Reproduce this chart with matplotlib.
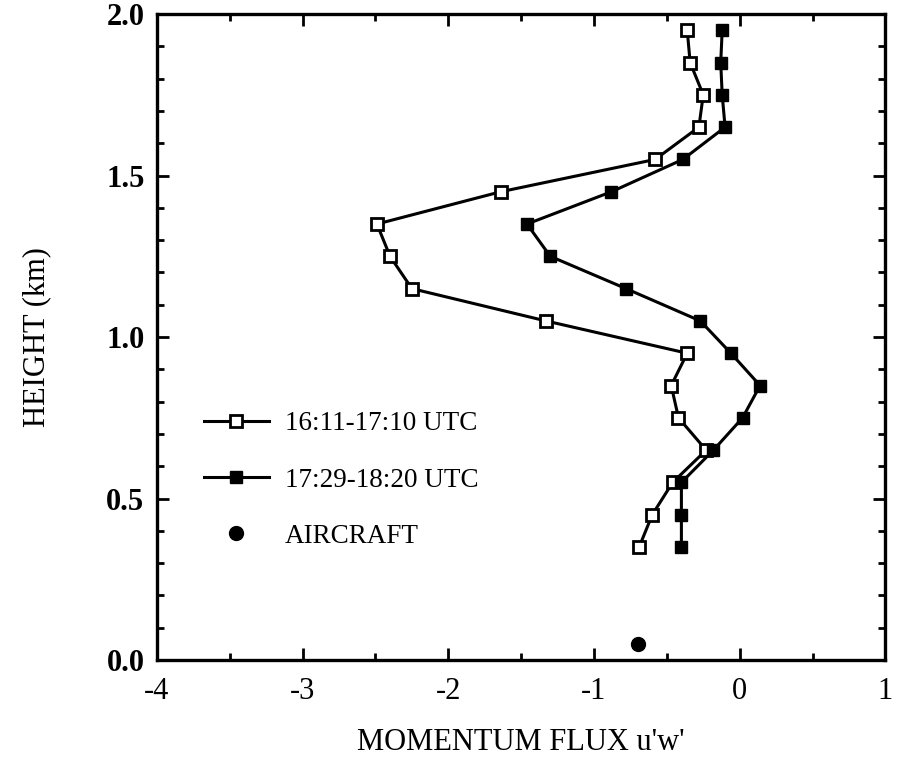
import matplotlib
matplotlib.use('Agg')
import matplotlib.pyplot as plt
from matplotlib.ticker import MultipleLocator

plt.rcParams['font.family'] = ['Liberation Serif', 'DejaVu Serif']
plt.rcParams['axes.unicode_minus'] = False

# heights (km) of the profile levels
heights = [0.35, 0.45, 0.55, 0.65, 0.75, 0.85, 0.95, 1.05, 1.15,
           1.25, 1.35, 1.45, 1.55, 1.65, 1.75, 1.85, 1.95]

# momentum flux u'w' for both periods
flux_early = [-0.69, -0.60, -0.46, -0.23, -0.42, -0.47, -0.36, -1.33, -2.25,
              -2.40, -2.49, -1.64, -0.58, -0.28, -0.25, -0.34, -0.36]
flux_late = [-0.40, -0.40, -0.40, -0.18, 0.02, 0.14, -0.06, -0.27, -0.78,
             -1.30, -1.46, -0.88, -0.39, -0.10, -0.12, -0.13, -0.12]

aircraft_flux = [-0.70]
aircraft_height = [0.05]

labels = ['16:11-17:10 UTC', '17:29-18:20 UTC', 'AIRCRAFT']

fig = plt.figure(figsize=(8.97, 7.83), dpi=100)
ax = fig.add_axes([0.175, 0.157, 0.812, 0.825])

ax.plot(flux_early, heights, color='black', linewidth=2.2, marker='s',
        markersize=8.5, markerfacecolor='white', markeredgecolor='black',
        markeredgewidth=2.0, label=labels[0], zorder=3)
ax.plot(flux_late, heights, color='black', linewidth=2.2, marker='s',
        markersize=9, markerfacecolor='black', markeredgecolor='black',
        label=labels[1], zorder=3)
ax.plot(aircraft_flux, aircraft_height, linestyle='none', marker='o',
        markersize=10, color='black', label=labels[2], zorder=3)

ax.set_xlim(-4, 1)
ax.set_ylim(0, 2)

ax.xaxis.set_major_locator(MultipleLocator(1))
ax.xaxis.set_minor_locator(MultipleLocator(0.5))
ax.yaxis.set_major_locator(MultipleLocator(0.5))
ax.yaxis.set_minor_locator(MultipleLocator(0.1))
ax.yaxis.set_major_formatter(plt.FuncFormatter(lambda v, p: '%.1f' % v))

ax.tick_params(which='both', direction='in', top=True, right=True, width=2)
ax.tick_params(which='major', length=8.5)
ax.tick_params(which='minor', length=5)
ax.tick_params(axis='x', which='major', labelsize=22, pad=12)
ax.tick_params(axis='y', which='major', labelsize=22, pad=9)
for lab in ax.get_yticklabels():
    lab.set_fontweight('bold')

for spine in ax.spines.values():
    spine.set_linewidth(2.4)

ax.set_xlabel("MOMENTUM FLUX u'w'", fontsize=22)
ax.set_ylabel('HEIGHT (km)', fontsize=22)
ax.xaxis.set_label_coords(0.5, -0.105)
ax.yaxis.set_label_coords(-0.145, 0.5)

ax.legend(loc='upper left', bbox_to_anchor=(0.064, 0.385), frameon=False,
          fontsize=19.5, handlelength=2.4, handletextpad=0.6,
          labelspacing=1.15, borderpad=0, borderaxespad=0, numpoints=1)

fig.savefig('out.png', dpi=100)
